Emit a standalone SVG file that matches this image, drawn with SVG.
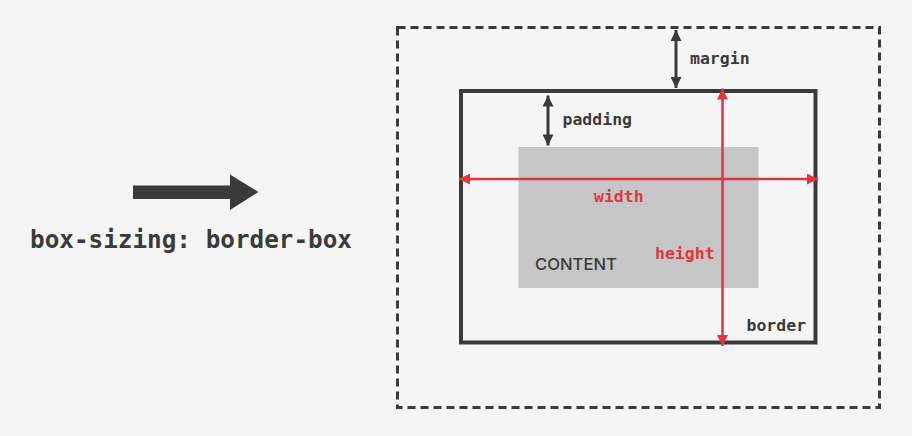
<svg xmlns="http://www.w3.org/2000/svg" width="912" height="436" viewBox="0 0 912 436">
<defs>
<style>
.mono{font-family:"DejaVu Sans Mono","Liberation Mono",monospace;font-weight:bold;}
.lbl{font-size:16.5px;fill:#3a3a3a;}
.red{fill:#e2363c;}
.dk{stroke:#3a3a3a;stroke-width:3;fill:none;}
.rl{stroke:#e2363c;stroke-width:2.5;fill:none;}
</style>
<marker id="ad" viewBox="0 0 10 10" refX="10" refY="5" markerWidth="12" markerHeight="11" markerUnits="userSpaceOnUse" orient="auto-start-reverse"><path d="M0,0 L10,5 L0,10 z" fill="#3a3a3a"/></marker>
<marker id="ar" viewBox="0 0 10 10" refX="10" refY="5" markerWidth="11" markerHeight="11" markerUnits="userSpaceOnUse" orient="auto-start-reverse"><path d="M0,0 L10,5 L0,10 z" fill="#e2363c"/></marker>
</defs>
<rect width="912" height="436" fill="#f5f5f5"/>
<g id="bigarrow">
<path d="M133,185.5 H230 V174.5 L258.5,192 L230,210 V199 H133 z" fill="#3a3a3a"/>
</g>
<g id="caption">
<text class="mono" x="30" y="248" font-size="24" fill="#3a3a3a" textLength="322" lengthAdjust="spacingAndGlyphs">box-sizing: border-box</text>
</g>
<g id="margin-box">
<rect x="397.5" y="27.5" width="482" height="380" fill="none" stroke="#3a3a3a" stroke-width="3" stroke-dasharray="8 5"/>
</g>
<g id="border-box">
<rect x="461" y="91" width="354.5" height="251.5" fill="none" stroke="#3a3a3a" stroke-width="4"/>
<text class="mono lbl" x="746.5" y="330.5">border</text>
</g>
<g id="content">
<rect x="518.5" y="147" width="240" height="141" fill="#c6c6c6"/>
<text x="535" y="270" font-family="Inter,'Liberation Sans',Arial,sans-serif" font-weight="500" font-size="16.5" fill="#3a3a3a" textLength="82" lengthAdjust="spacingAndGlyphs">CONTENT</text>
</g>
<g id="connectors">
<line class="dk" x1="676" y1="30" x2="676" y2="88" marker-start="url(#ad)" marker-end="url(#ad)"/>
<line class="dk" x1="548" y1="95.5" x2="548" y2="145.5" marker-start="url(#ad)" marker-end="url(#ad)"/>
<line class="rl" x1="459" y1="179" x2="818" y2="179" marker-start="url(#ar)" marker-end="url(#ar)"/>
<line class="rl" x1="722.5" y1="88.5" x2="722.5" y2="346" marker-start="url(#ar)" marker-end="url(#ar)"/>
</g>
<g id="labels">
<text class="mono lbl" x="690" y="64">margin</text>
<text class="mono lbl" x="562.5" y="124.5">padding</text>
<text class="mono red" x="594" y="201.5" font-size="16.5">width</text>
<text class="mono red" x="655" y="259" font-size="16.5">height</text>
</g>
</svg>
